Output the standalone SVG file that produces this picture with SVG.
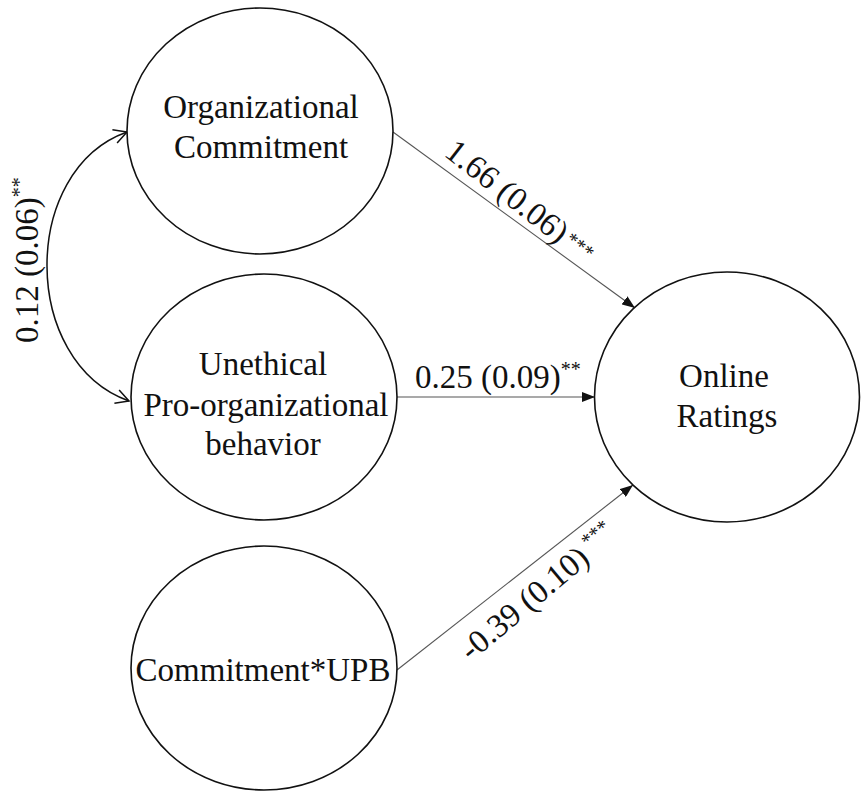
<svg xmlns="http://www.w3.org/2000/svg" width="862" height="792" viewBox="0 0 862 792">
<style>
.node{fill:#fff;stroke:#111;stroke-width:1.6}
.t{font-family:"Liberation Serif",Tinos,"Times New Roman","Noto Serif","DejaVu Serif",serif;font-size:33px;fill:#111}
.c{text-anchor:middle}
.sup{font-size:20px}
.edge{stroke:#555;stroke-width:1.1;fill:none}
.curve{stroke:#111;stroke-width:1.5;fill:none}
</style>
<defs>
<marker id="tri" markerUnits="userSpaceOnUse" markerWidth="14" markerHeight="10" refX="13" refY="5" orient="auto">
<path d="M0,0 L13,5 L0,10 Z" fill="#111"/>
</marker>
<marker id="open" markerUnits="userSpaceOnUse" markerWidth="16" markerHeight="18" refX="14" refY="9" orient="auto-start-reverse">
<path d="M1,2 L14,9 L1,16" fill="none" stroke="#111" stroke-width="1.5"/>
</marker>
</defs>
<rect width="862" height="792" fill="#fff"/>
<g id="connectors">
<path class="curve" d="M127,132 C20,170 20,362 129,401" marker-start="url(#open)" marker-end="url(#open)"/>
<line class="edge" x1="393" y1="132" x2="635" y2="308" marker-end="url(#tri)"/>
<line class="edge" x1="397" y1="397" x2="595" y2="397" marker-end="url(#tri)"/>
<line class="edge" x1="397" y1="670" x2="633" y2="485" marker-end="url(#tri)"/>
<text class="t" transform="translate(38,343) rotate(-90)">0.12 (0.06)<tspan class="sup" dy="-12">**</tspan></text>
<text class="t" transform="translate(443,155) rotate(38)">1.66 (0.06)<tspan class="sup" dx="3" dy="-6">***</tspan></text>
<text class="t" x="415" y="388">0.25 (0.09)<tspan class="sup" dy="-12">**</tspan></text>
<text class="t" transform="translate(471,662) rotate(-40)">-0.39 (0.10)<tspan class="sup" dx="6" dy="-12">***</tspan></text>
</g>
<g id="org-commitment">
<ellipse class="node" cx="260" cy="131" rx="133" ry="123"/>
<text class="t c" x="261" y="118">Organizational</text>
<text class="t c" x="261" y="158">Commitment</text>
</g>
<g id="upb">
<ellipse class="node" cx="264" cy="397" rx="133" ry="123"/>
<text class="t c" x="263" y="375">Unethical</text>
<text class="t c" x="266" y="416">Pro-organizational</text>
<text class="t c" x="263" y="455">behavior</text>
</g>
<g id="interaction">
<ellipse class="node" cx="264" cy="668" rx="133" ry="122"/>
<text class="t c" x="263" y="681">Commitment*UPB</text>
</g>
<g id="online-ratings">
<ellipse class="node" cx="727" cy="397" rx="132.5" ry="125"/>
<text class="t c" x="724" y="387">Online</text>
<text class="t c" x="727" y="427">Ratings</text>
</g>
</svg>
